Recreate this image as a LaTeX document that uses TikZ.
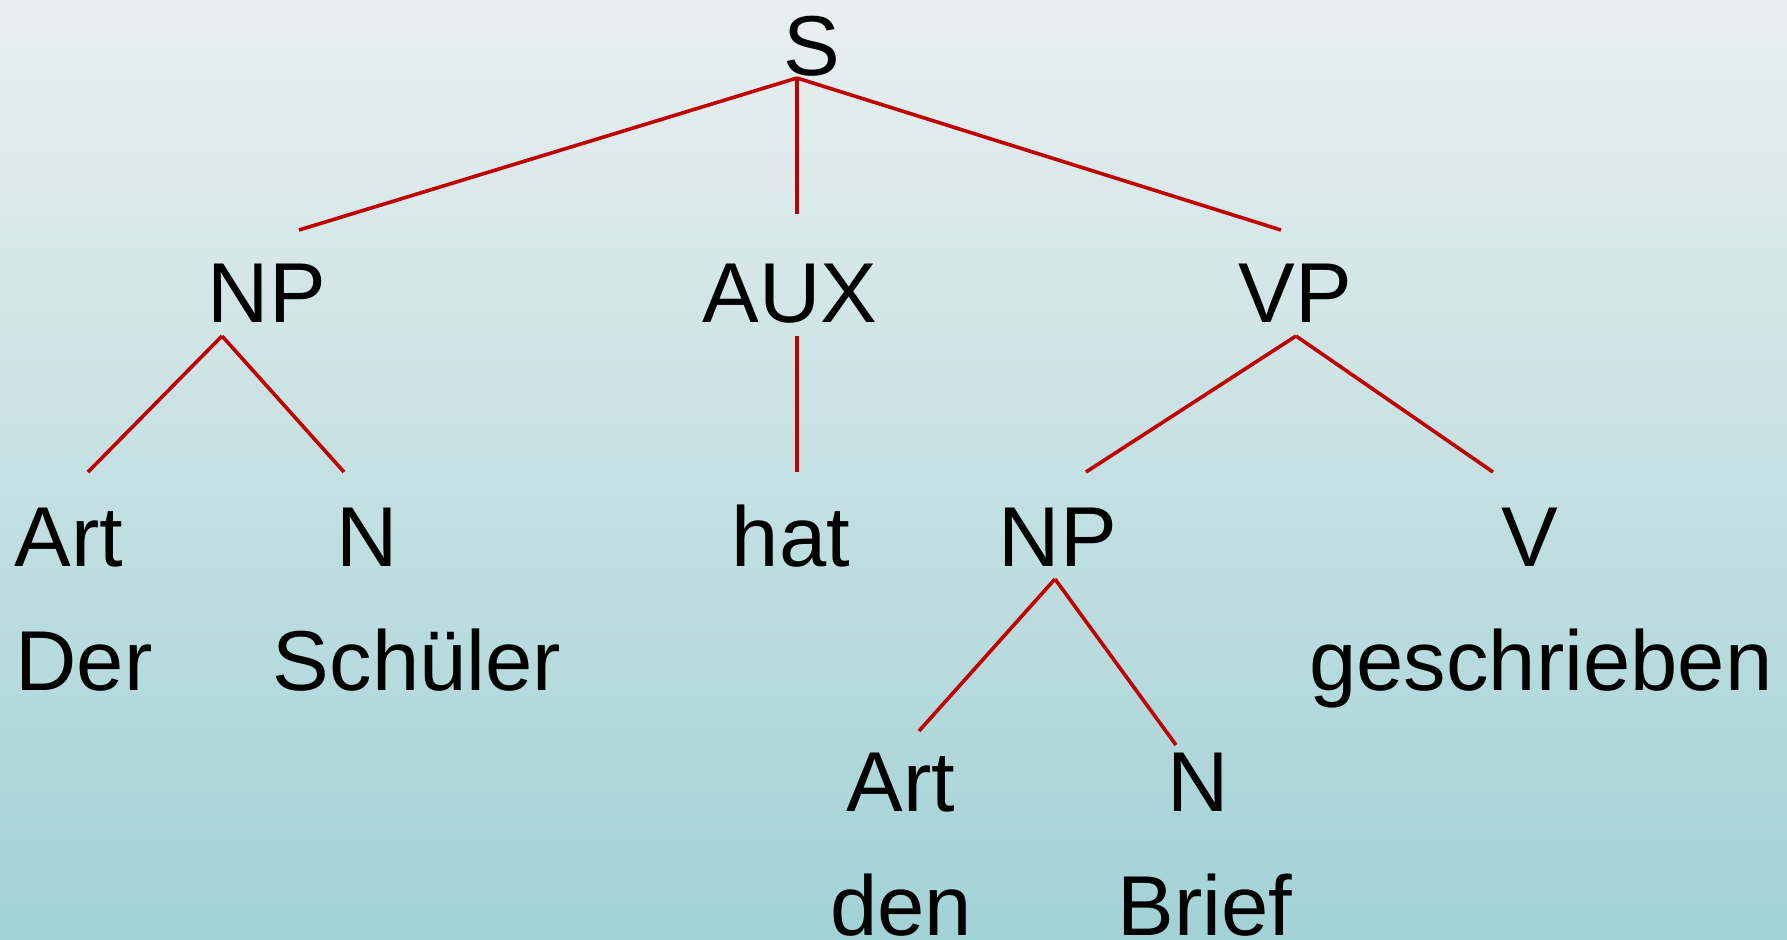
\documentclass[tikz,border=0pt]{standalone}
\usepackage{fontspec}
\setmainfont{Liberation Sans}
\definecolor{bgtop}{RGB}{233,239,239}
\definecolor{bgbot}{RGB}{162,210,214}
\definecolor{edgered}{RGB}{192,0,0}
\tikzset{
  lbl/.style={anchor=base, inner sep=0pt, font=\fontsize{42.5pt}{50pt}\selectfont, text=black},
  edge/.style={draw=edgered, line width=1.8pt},
}
\begin{document}
\begin{tikzpicture}[x=0.5pt, y=-0.5pt]
\useasboundingbox (0,0) rectangle (1787,939);
\shade[top color=bgtop, bottom color=bgbot] (0,0) rectangle (1787,939);
% labels
\node[lbl] (S) at (812,75) {S};
\node[lbl] (NP1) at (267,322) {NP};
\node[lbl] (AUX) at (790,322) {AUX};
\node[lbl] (VP) at (1295,322) {VP};
\node[lbl] (Art1) at (69,566) {Art};
\node[lbl] (N1) at (367,566) {N};
\node[lbl] (hat) at (791,566) {hat};
\node[lbl] (NP2) at (1058,566) {NP};
\node[lbl] (V) at (1530,566) {V};
\node[lbl] (Der) at (84,690) {Der};
\node[lbl] (Schueler) at (417,690) {Schüler};
\node[lbl] (geschrieben) at (1541,690) {geschrieben};
\node[lbl] (Art2) at (901,811) {Art};
\node[lbl] (N2) at (1198,811) {N};
\node[lbl] (den) at (901,935) {den};
\node[lbl] (Brief) at (1205,935) {Brief};
% connector end points
\coordinate (S-b) at (797,78);
\coordinate (NP1-t) at (299,230);
\coordinate (AUX-t) at (797,214);
\coordinate (VP-t) at (1281,230);
\coordinate (NP1-b) at (222,336);
\coordinate (Art1-t) at (88,472);
\coordinate (N1-t) at (344,472);
\coordinate (AUX-b) at (797,336);
\coordinate (hat-t) at (797,472);
\coordinate (VP-b) at (1296,336);
\coordinate (NP2-t) at (1086,472);
\coordinate (V-t) at (1493,472);
\coordinate (NP2-b) at (1055,579);
\coordinate (Art2-t) at (919,731);
\coordinate (N2-t) at (1176,745);
% connectors
\draw[edge] (S-b) -- (NP1-t);
\draw[edge] (S-b) -- (AUX-t);
\draw[edge] (S-b) -- (VP-t);
\draw[edge] (NP1-b) -- (Art1-t);
\draw[edge] (NP1-b) -- (N1-t);
\draw[edge] (AUX-b) -- (hat-t);
\draw[edge] (VP-b) -- (NP2-t);
\draw[edge] (VP-b) -- (V-t);
\draw[edge] (NP2-b) -- (Art2-t);
\draw[edge] (NP2-b) -- (N2-t);
\end{tikzpicture}
\end{document}
